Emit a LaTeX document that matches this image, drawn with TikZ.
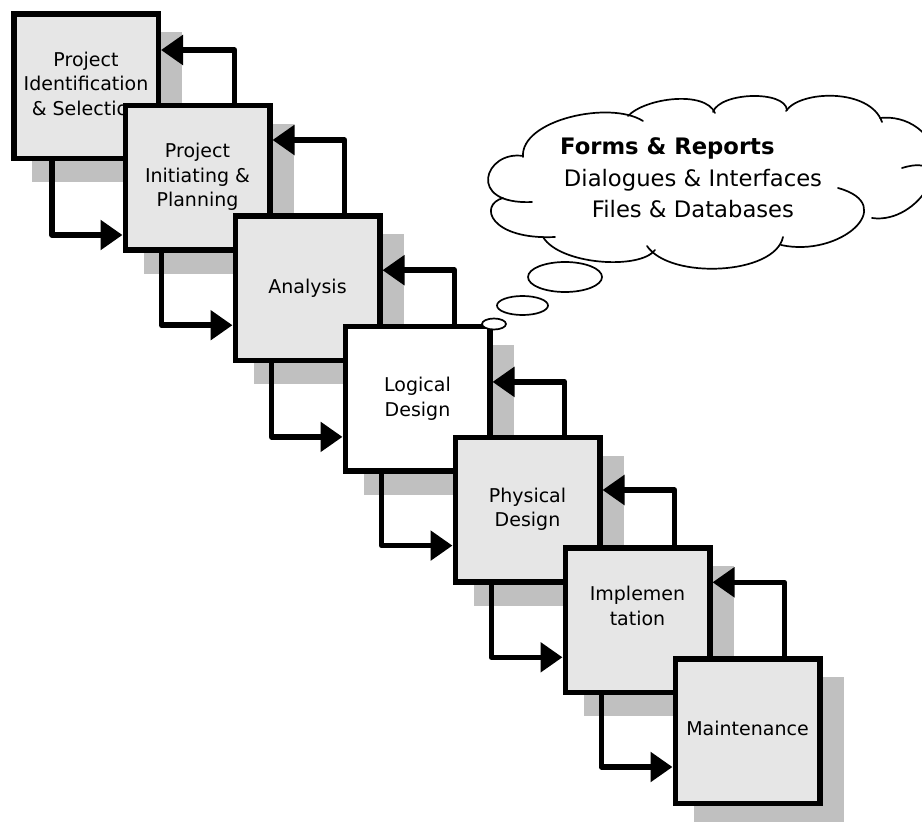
\documentclass[tikz,border=0pt]{standalone}
\usepackage{fontspec}
\setmainfont{DejaVu Sans}
\usetikzlibrary{arrows.meta,calc}
\definecolor{boxfill}{RGB}{230,230,230}
\definecolor{shadowgray}{RGB}{192,192,192}
\begin{document}
\begin{tikzpicture}[x=1pt,y=-1pt,
  stepbox/.style={draw=black, line width=5.5pt, fill=boxfill, minimum width=144.5pt, minimum height=144.5pt, inner sep=0pt, align=center, font=\fontsize{19}{24.5}\selectfont},
  shadowbox/.style={fill=shadowgray, draw=none, minimum width=150pt, minimum height=150pt, inner sep=0pt, outer sep=0pt},
  flow/.style={line width=5.5pt, line join=round, -{Triangle[length=22pt,width=29pt]}},
  cloudline/.style={line width=1.7pt, line cap=round},
  cloudtext/.style={inner sep=0pt, font=\fontsize{22.7}{28}\selectfont},
]
\useasboundingbox (0,0) rectangle (922,822);

% boxes with shadows
\node[shadowbox] (s1) at (107,107) {};
\node[stepbox] (b1) at (86,86) {\strut Project\\\strut Identification\\\strut \& Selection};
\node[shadowbox] (s2) at (218.5,198.5) {};
\node[stepbox] (b2) at (197.5,177.5) {\strut Project\\\strut Initiating \&\\\strut Planning};
\node[shadowbox] (s3) at (328.5,309.2) {};
\node[stepbox] (b3) at (307.5,288.2) {\strut Analysis};
\node[shadowbox] (s4) at (438.5,419.9) {};
\node[stepbox, fill=white] (b4) at (417.5,398.9) {\strut Logical\\\strut Design};
\node[shadowbox] (s5) at (548.5,530.6) {};
\node[stepbox] (b5) at (527.5,509.6) {\strut Physical\\\strut Design};
\node[shadowbox] (s6) at (658.5,641.3) {};
\node[stepbox] (b6) at (637.5,620.3) {\strut Implemen\\\strut tation\\\strut};
\node[shadowbox] (s7) at (768.5,752) {};
\node[stepbox] (b7) at (747.5,731) {\strut Maintenance};

% forward arrows
\draw[flow] ($(b1.south west)+(41,0)$) |- ($(b2.west)+(0,57.5)$);
\draw[flow] ($(b2.south west)+(39,0)$) |- ($(b3.west)+(0,37)$);
\draw[flow] ($(b3.south west)+(39,0)$) |- ($(b4.west)+(0,38)$);
\draw[flow] ($(b4.south west)+(39,0)$) |- ($(b5.west)+(0,36)$);
\draw[flow] ($(b5.south west)+(39,0)$) |- ($(b6.west)+(0,37)$);
\draw[flow] ($(b6.south west)+(39,0)$) |- ($(b7.west)+(0,36)$);

% backward arrows
\draw[flow] ($(b2.north west)+(112,0)$) |- ($(b1.east)+(0,-36)$);
\draw[flow] ($(b3.north west)+(112,0)$) |- ($(b2.east)+(0,-37.5)$);
\draw[flow] ($(b4.north west)+(112,0)$) |- ($(b3.east)+(0,-18)$);
\draw[flow] ($(b5.north west)+(112,0)$) |- ($(b4.east)+(0,-17)$);
\draw[flow] ($(b6.north west)+(112,0)$) |- ($(b5.east)+(0,-19.6)$);
\draw[flow] ($(b7.north west)+(112,0)$) |- ($(b6.east)+(0,-38)$);

% thought cloud
\draw[cloudline] (523,157) .. controls (520,120) and (610,100) .. (643,121);
\draw[cloudline] (523,156) .. controls (485,150) and (465,205) .. (532,202);
\draw[cloudline] (503,198) .. controls (478,205) and (490,240) .. (555,237);
\draw[cloudline] (543,237) .. controls (560,265) and (640,270) .. (655,250);
\draw[cloudline] (647,246) .. controls (670,280) and (775,275) .. (783,237);
\draw[cloudline] (781,245) .. controls (840,258) and (900,205) .. (838,188);
\draw[cloudline] (872,218) .. controls (920,225) and (960,150) .. (902,168);
\draw[cloudline] (880,118) .. controls (905,115) and (935,130) .. (940,170);
\draw[cloudline] (786,111) .. controls (800,90) and (870,88) .. (882,122);
\draw[cloudline] (713,112) .. controls (720,92) and (785,90) .. (787,110);
\draw[cloudline] (628,116) .. controls (645,98) and (705,90) .. (715,113);

\node[cloudtext, font=\fontsize{22.7}{28}\selectfont\bfseries, anchor=base west] (c1) at (560,154.5) {Forms \& Reports};
\node[cloudtext, anchor=base] (c2) at (693,186) {Dialogues \& Interfaces};
\node[cloudtext, anchor=base] (c3) at (693,217.5) {Files \& Databases};

% bubbles
\draw[cloudline, fill=white] (565,277) ellipse [x radius=37pt, y radius=15pt];
\draw[cloudline, fill=white] (522.5,305.5) ellipse [x radius=25.5pt, y radius=9.5pt];
\draw[cloudline, fill=white] (494,324) ellipse [x radius=12pt, y radius=5.5pt];
\end{tikzpicture}
\end{document}
